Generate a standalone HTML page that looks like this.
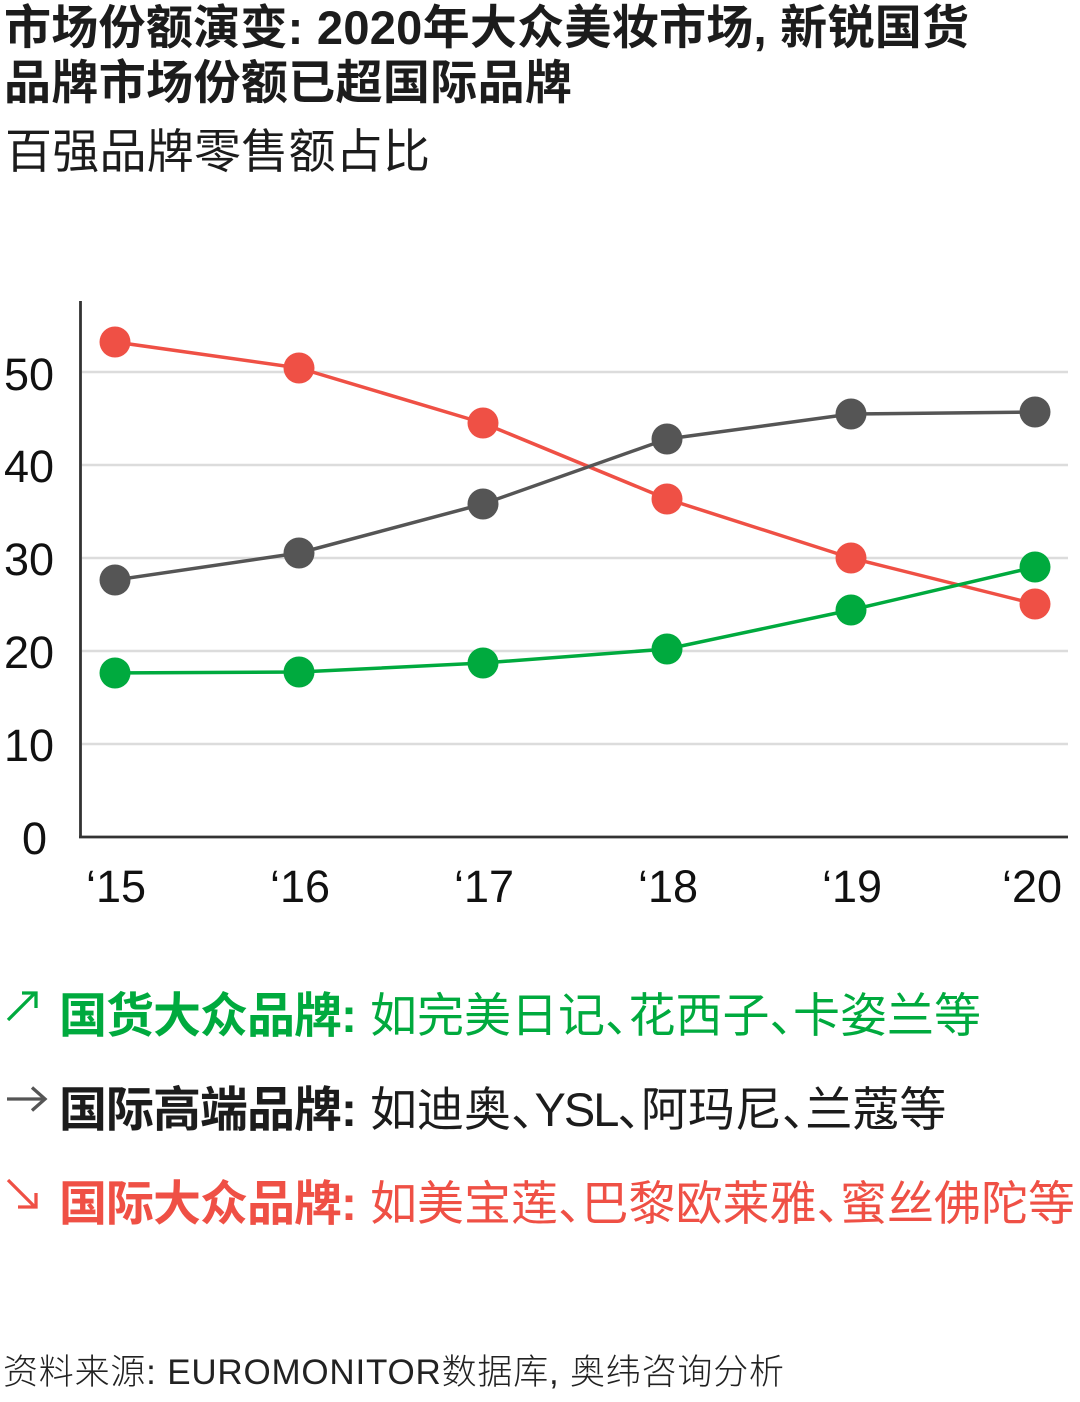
<!DOCTYPE html>
<html>
<head>
<meta charset="utf-8">
<style>
  html, body { margin:0; padding:0; background:#fff; }
  svg { display:block; }
  .cjk { font-family: "Liberation Sans", "Noto Sans CJK SC", sans-serif; }
  .lat { font-family: "Liberation Sans", sans-serif; }
</style>
</head>
<body>
<svg width="1080" height="1402" viewBox="0 0 1080 1402" xmlns="http://www.w3.org/2000/svg">
  <rect x="0" y="0" width="1080" height="1402" fill="#ffffff"/>

  <!-- Title -->
  <text class="cjk" x="4" y="44" font-size="47" font-weight="700" fill="#1c1c1c" textLength="965" lengthAdjust="spacing">市场份额演变: 2020年大众美妆市场, 新锐国货</text>
  <text class="cjk" x="4" y="99" font-size="47" font-weight="700" fill="#1c1c1c" textLength="568" lengthAdjust="spacing">品牌市场份额已超国际品牌</text>
  <text class="cjk" x="5" y="168" font-size="47" font-weight="400" fill="#1c1c1c" textLength="425" lengthAdjust="spacing">百强品牌零售额占比</text>

  <!-- Gridlines -->
  <g stroke="#dcdcdc" stroke-width="2.5">
    <line x1="82" y1="372" x2="1068" y2="372"/>
    <line x1="82" y1="465" x2="1068" y2="465"/>
    <line x1="82" y1="558" x2="1068" y2="558"/>
    <line x1="82" y1="651" x2="1068" y2="651"/>
    <line x1="82" y1="744" x2="1068" y2="744"/>
  </g>

  <!-- Axes -->
  <line x1="80.5" y1="301" x2="80.5" y2="838" stroke="#333" stroke-width="2.8"/>
  <line x1="79" y1="837" x2="1068" y2="837" stroke="#333" stroke-width="2.8"/>

  <!-- Y tick labels -->
  <g class="lat" font-size="45" fill="#111">
    <text x="54" y="390" text-anchor="end">50</text>
    <text x="54" y="482" text-anchor="end">40</text>
    <text x="54" y="575" text-anchor="end">30</text>
    <text x="54" y="668" text-anchor="end">20</text>
    <text x="54" y="761" text-anchor="end">10</text>
    <text x="22" y="854">0</text>
  </g>

  <!-- X tick labels -->
  <g class="lat" font-size="45" fill="#111" text-anchor="middle">
    <text x="116" y="902">‘15</text>
    <text x="300" y="902">‘16</text>
    <text x="484" y="902">‘17</text>
    <text x="668" y="902">‘18</text>
    <text x="852" y="902">‘19</text>
    <text x="1032" y="902">‘20</text>
  </g>

  <!-- Red series -->
  <g>
    <polyline points="115,342 299,368 483,423 667,499 851,558 1035,604" fill="none" stroke="#ef5045" stroke-width="3.5" stroke-linejoin="round"/>
    <g fill="#ef5045">
      <circle cx="115" cy="342" r="15.5"/>
      <circle cx="299" cy="368" r="15.5"/>
      <circle cx="483" cy="423" r="15.5"/>
      <circle cx="667" cy="499" r="15.5"/>
      <circle cx="851" cy="558" r="15.5"/>
      <circle cx="1035" cy="604" r="15.5"/>
    </g>
  </g>

  <!-- Gray series -->
  <g>
    <polyline points="115,580 299,553 483,504 667,439 851,414 1035,412" fill="none" stroke="#555555" stroke-width="3.5" stroke-linejoin="round"/>
    <g fill="#555555">
      <circle cx="115" cy="580" r="15.5"/>
      <circle cx="299" cy="553" r="15.5"/>
      <circle cx="483" cy="504" r="15.5"/>
      <circle cx="667" cy="439" r="15.5"/>
      <circle cx="851" cy="414" r="15.5"/>
      <circle cx="1035" cy="412" r="15.5"/>
    </g>
  </g>

  <!-- Green series -->
  <g>
    <polyline points="115,673 299,672 483,663 667,649 851,610 1035,567" fill="none" stroke="#00aa3e" stroke-width="3.5" stroke-linejoin="round"/>
    <g fill="#00aa3e">
      <circle cx="115" cy="673" r="15.5"/>
      <circle cx="299" cy="672" r="15.5"/>
      <circle cx="483" cy="663" r="15.5"/>
      <circle cx="667" cy="649" r="15.5"/>
      <circle cx="851" cy="610" r="15.5"/>
      <circle cx="1035" cy="567" r="15.5"/>
    </g>
  </g>

  <!-- Legend arrows -->
  <g fill="none" stroke-width="3.3" stroke-linecap="butt" stroke-linejoin="miter">
    <g stroke="#00aa3e">
      <line x1="8" y1="1020" x2="35" y2="993"/>
      <polyline points="22,993 36,993 36,1008"/>
    </g>
    <g stroke="#555555">
      <line x1="7" y1="1099" x2="44" y2="1099"/>
      <polyline points="32,1087.5 45,1099 32,1110.5"/>
    </g>
    <g stroke="#ef5045">
      <line x1="8" y1="1180" x2="35" y2="1207"/>
      <polyline points="36,1193 36,1207 18,1207"/>
    </g>
  </g>

  <!-- Legend text -->
  <text class="cjk" x="59" y="1032" font-size="48" font-weight="700" fill="#00aa3e" textLength="298" lengthAdjust="spacing">国货大众品牌:</text>
  <text class="cjk" x="370" y="1032" font-size="47" font-weight="400" fill="#00aa3e">如完美日记<tspan>、</tspan><tspan dx="-23.5">花西子</tspan><tspan>、</tspan><tspan dx="-23.5">卡姿兰等</tspan></text>

  <text class="cjk" x="59" y="1126" font-size="48" font-weight="700" fill="#1c1c1c" textLength="298" lengthAdjust="spacing">国际高端品牌:</text>
  <text class="cjk" x="370" y="1126" font-size="47" font-weight="400" fill="#1c1c1c">如迪奥<tspan>、</tspan><tspan dx="-23.5" letter-spacing="-2">YSL</tspan><tspan>、</tspan><tspan dx="-23.5">阿玛尼</tspan><tspan>、</tspan><tspan dx="-23.5">兰蔻等</tspan></text>

  <text class="cjk" x="59" y="1220" font-size="48" font-weight="700" fill="#ef5045" textLength="298" lengthAdjust="spacing">国际大众品牌:</text>
  <text class="cjk" x="370" y="1220" font-size="47" font-weight="400" fill="#ef5045">如美宝莲<tspan>、</tspan><tspan dx="-23.5">巴黎欧莱雅</tspan><tspan>、</tspan><tspan dx="-23.5">蜜丝佛陀等</tspan></text>

  <!-- Source -->
  <text class="cjk" x="3" y="1384" font-size="35" font-weight="300" fill="#222" textLength="781" lengthAdjust="spacing">资料来源: EUROMONITOR数据库, 奥纬咨询分析</text>
</svg>
</body>
</html>
